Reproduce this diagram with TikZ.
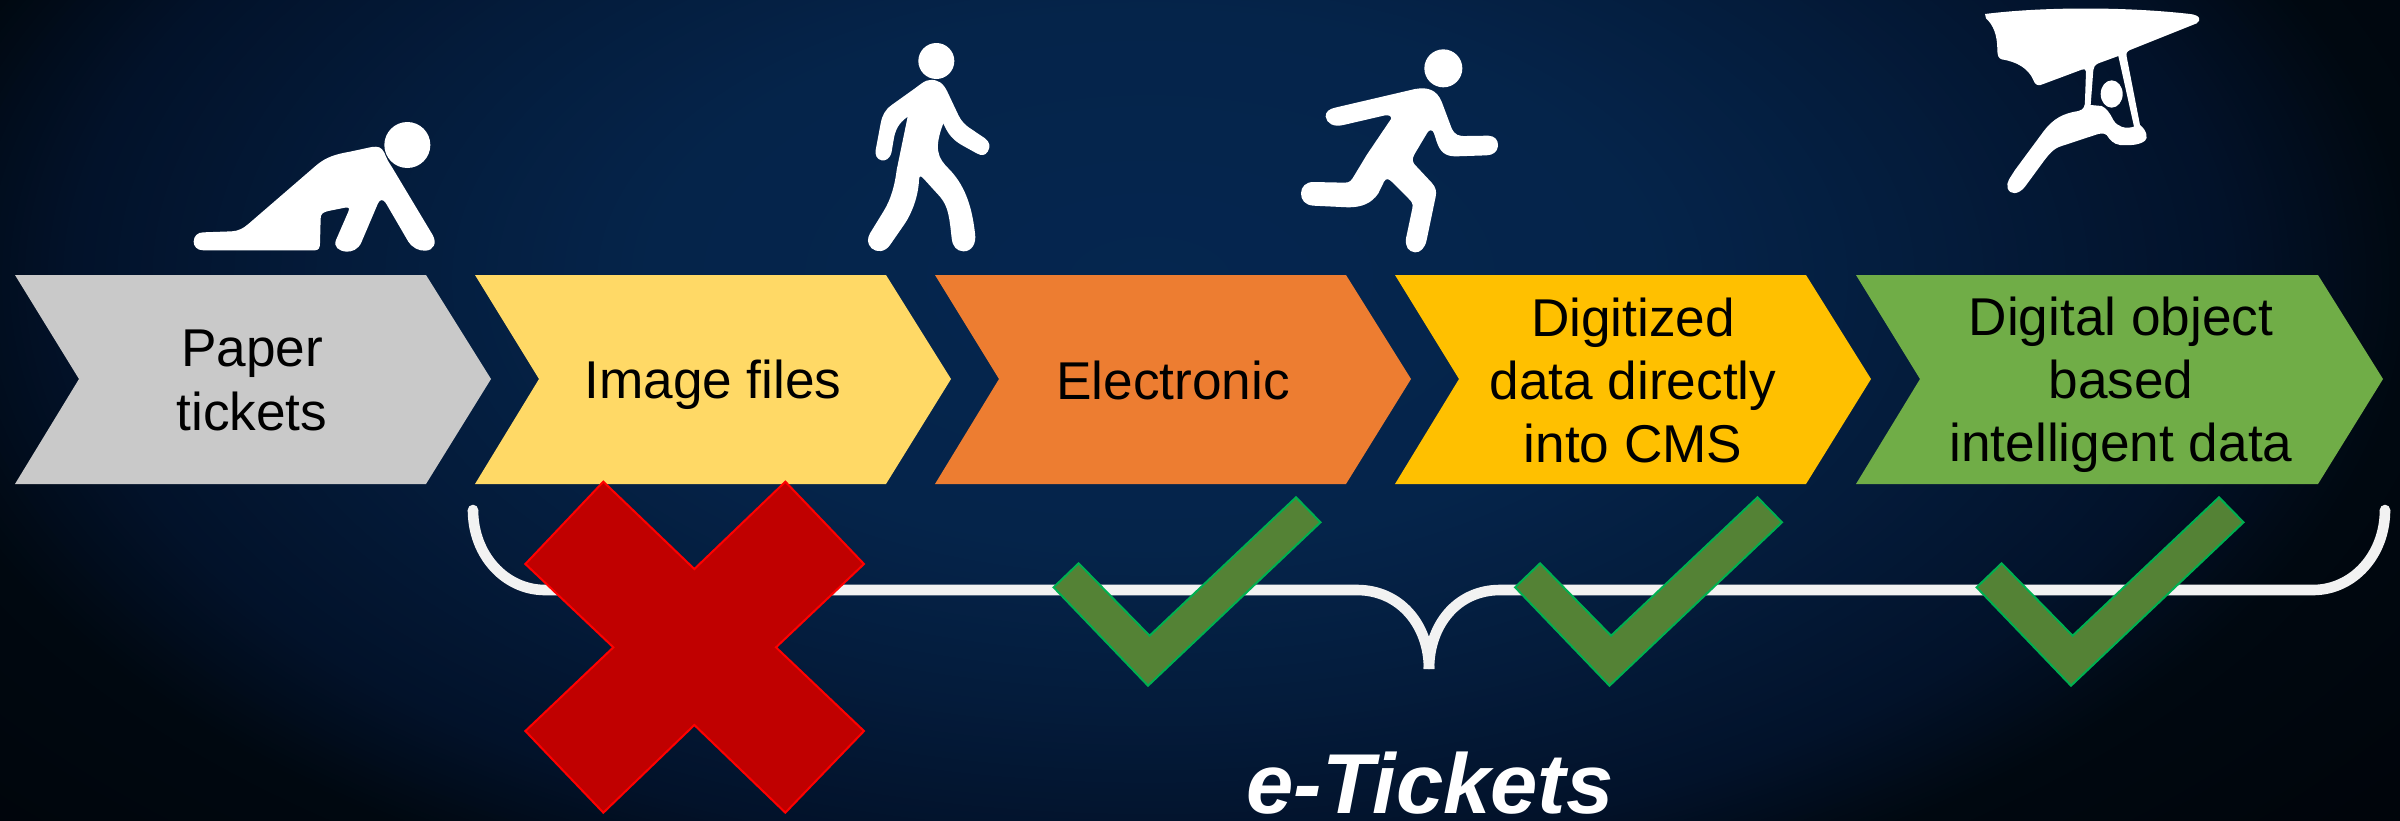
\documentclass[tikz,border=0pt]{standalone}
\usepackage{fontspec}
\setmainfont{Liberation Sans}
\definecolor{bgA}{HTML}{05264F}
\definecolor{bgB}{HTML}{05244A}
\definecolor{bgC}{HTML}{041C3C}
\definecolor{bgD}{HTML}{02122A}
\definecolor{bgE}{HTML}{000810}
\definecolor{bgF}{HTML}{00040A}
\definecolor{crossfill}{HTML}{C00000}
\definecolor{crossline}{HTML}{FF0000}
\definecolor{checkfill}{HTML}{548235}
\definecolor{checkline}{HTML}{00B050}
\definecolor{bracecol}{HTML}{F2F2F2}
\definecolor{chevgray}{HTML}{C9C9C9}
\definecolor{chevyellow}{HTML}{FFD966}
\definecolor{chevorange}{HTML}{ED7D31}
\definecolor{chevamber}{HTML}{FFC000}
\definecolor{chevgreen}{HTML}{70AD47}
\tikzset{
  chevlabel/.style={font=\fontsize{26.6}{31.6}\selectfont,text=black,align=center,anchor=center,inner sep=0pt},
  figure/.style={fill=white,draw=none},
  bracearc/.style={draw=bracecol,line width=5.3pt},
  crossmark/.style={fill=crossfill,draw=crossline,line width=1pt,line join=miter},
  checkmark/.style={fill=checkfill,draw=checkline,line width=1pt,line join=miter},
  zoomed/.style={x=0.166667pt,y=-0.166667pt}
}
\newcommand{\glowband}[4]{%
  \foreach \s in {0,...,24}{%
    \pgfmathsetmacro\bandt{#1+(#2-#1)*\s/25}%
    \pgfmathsetmacro\bandp{100-\s*4}%
    \fill[#3!\bandp!#4] (1150,280) ellipse [x radius={1270*\bandt}, y radius={680*\bandt}];
  }}
\newcommand{\chevronshape}[3]{%
  \fill[#2] (#1,275) -- ++(#3,0) -- ++(65,104) -- ++(-65,105) -- ++(-#3,0) -- ++(64,-105) -- cycle;}
\newcommand{\checkshape}[1]{%
  \begin{scope}[shift={(#1,0)}]
  \path[checkmark] (1053.6,587.3) -- (1078.6,563.3) -- (1149.6,635.7) -- (1296,497.3) -- (1320.5,522.3) -- (1148,685.7) -- cycle;
  \end{scope}}
\begin{document}
\begin{tikzpicture}[x=0.5pt,y=-0.5pt]
\useasboundingbox (0,0) rectangle (2400,820);
\fill[bgF] (0,0) rectangle (2400,820);
\begin{scope}
  \clip (0,0) rectangle (2400,820);
  \glowband{1.3}{1.0}{bgF}{bgE}
  \glowband{1.0}{0.85}{bgE}{bgD}
  \glowband{0.85}{0.62}{bgD}{bgC}
  \glowband{0.62}{0.4}{bgC}{bgB}
  \glowband{0.4}{0.0}{bgB}{bgA}
\end{scope}
% chevrons
\chevronshape{15}{chevgray}{411}
\chevronshape{475}{chevyellow}{411}
\chevronshape{935}{chevorange}{411}
\chevronshape{1395}{chevamber}{411}
\chevronshape{1856}{chevgreen}{462}
\node[chevlabel] (paper) at (252,380.5) {Paper\\tickets};
\node[chevlabel] (image) at (713,385) {Image files};
\node[chevlabel] (elec) at (1173,380.5) {Electronic};
\node[chevlabel] (digit) at (1633,380.5) {Digitized\\data directly\\into CMS};
\node[chevlabel] (object) at (2121,385) {Digital object\\based\\intelligent data};
% brace
\path[bracearc] (473,510) .. controls (473,555) and (505,590) .. (545,590) -- (1357,590) .. controls (1400,590) and (1429,625) .. (1429,669);
\path[bracearc] (2385,510) .. controls (2385,555) and (2353,590) .. (2313,590) -- (1500,590) .. controls (1457,590) and (1429,625) .. (1429,669);
\fill[bracecol] (473,510) circle [radius=5.3];
\fill[bracecol] (2385,510) circle [radius=5.3];
% cross
\begin{scope}[shift={(440,470)},zoomed]
\path[crossmark] (490,35) -- (763,297) -- (1036,35) -- (1272,282) -- (1008,532) -- (1272,783) -- (1036,1028) -- (763,765) -- (490,1028) -- (256,783) -- (520,532) -- (256,282) -- cycle;
\end{scope}
% checks
\checkshape{0}
\checkshape{461.5}
\checkshape{923}
% crawler
\begin{scope}[shift={(150,100)},zoomed]
\fill[white] (772,135) circle [radius=69];
\path[figure] (160,397) -- (245,394) .. controls (265,393) and (280,385) .. (295,372) -- (500,195) .. controls (530,170) and (560,162) .. (600,155) -- (665,141) .. controls (685,138) and (695,142) .. (703,158) .. controls (712,180) and (715,185) .. (725,200) -- (848,405) .. controls (862,430) and (850,452) .. (825,452) .. controls (805,452) and (790,445) .. (775,425) -- (708,310) .. controls (700,297) and (690,297) .. (684,310) -- (635,425) .. controls (625,450) and (605,455) .. (590,455) .. controls (565,453) and (550,440) .. (558,420) -- (595,335) .. controls (600,322) and (595,322) .. (585,323) -- (535,333) .. controls (518,337) and (512,342) .. (512,355) -- (510,430) .. controls (510,445) and (505,450) .. (495,451) -- (160,451) .. controls (140,451) and (131,438) .. (131,425) .. controls (131,408) and (143,397) .. (160,397) -- cycle;
\end{scope}
% walker
\begin{scope}[shift={(840,20)},zoomed]
\fill[white] (289,123) circle [radius=54];
\path[figure] (270,180) .. controls (295,178) and (310,190) .. (322,215) -- (355,285) .. controls (365,305) and (375,315) .. (395,328) -- (435,355) .. controls (450,367) and (452,380) .. (443,395) .. controls (435,407) and (425,408) .. (410,400) -- (365,375) .. controls (340,360) and (325,345) .. (310,310) .. controls (298,340) and (290,375) .. (295,395) .. controls (298,415) and (310,430) .. (325,445) .. controls (370,490) and (395,550) .. (405,640) .. controls (410,670) and (395,695) .. (370,694) .. controls (350,693) and (338,680) .. (335,655) .. controls (328,590) and (325,560) .. (300,530) -- (250,475) .. controls (240,465) and (238,468) .. (237,480) .. controls (235,530) and (215,580) .. (195,610) -- (150,675) .. controls (135,697) and (110,698) .. (95,685) .. controls (80,670) and (82,655) .. (90,640) -- (130,575) .. controls (155,535) and (165,490) .. (170,450) -- (203,290) .. controls (175,310) and (165,330) .. (160,365) -- (155,395) .. controls (150,418) and (135,423) .. (125,421) .. controls (110,418) and (105,405) .. (107,390) -- (122,310) .. controls (127,285) and (135,270) .. (155,255) -- (225,205) .. controls (245,190) and (255,181) .. (270,180) -- cycle;
\end{scope}
% runner
\begin{scope}[shift={(1280,40)},zoomed]
\fill[white] (490,85) circle [radius=57];
\path[figure] (165,203) -- (405,147) .. controls (445,140) and (470,150) .. (485,185) -- (515,265) .. controls (525,285) and (535,289) .. (560,288) -- (625,287) .. controls (645,288) and (655,300) .. (654,318) .. controls (652,335) and (640,345) .. (620,346) -- (530,349) .. controls (495,350) and (480,335) .. (470,305) -- (462,280) .. controls (458,268) and (448,268) .. (442,278) -- (405,340) .. controls (395,358) and (395,365) .. (410,380) -- (455,428) .. controls (468,442) and (470,455) .. (467,470) -- (440,600) .. controls (435,625) and (420,638) .. (405,637) .. controls (385,635) and (375,620) .. (378,595) -- (397,505) .. controls (400,490) and (395,485) .. (385,475) -- (335,425) .. controls (325,415) and (318,415) .. (312,425) -- (295,460) .. controls (275,490) and (245,502) .. (205,502) -- (100,497) .. controls (75,495) and (63,480) .. (63,460) .. controls (63,440) and (78,426) .. (100,426) -- (195,428) .. controls (210,428) and (215,420) .. (222,408) -- (260,345) -- (333,237) .. controls (335,228) and (328,225) .. (315,226) -- (190,255) .. controls (160,262) and (140,250) .. (137,230) .. controls (136,215) and (148,207) .. (165,203) -- cycle;
\end{scope}
% glider
\begin{scope}[shift={(1960,0)},zoomed]
\path[figure,even odd rule] (75,42) .. controls (250,20) and (500,20) .. (690,42) .. controls (720,45) and (725,60) .. (710,70) -- (510,150) .. controls (500,155) and (498,160) .. (500,170) -- (540,375) .. controls (560,390) and (565,415) .. (555,422) .. controls (540,435) and (510,437) .. (480,435) .. controls (460,432) and (450,420) .. (440,405) .. controls (430,398) and (420,400) .. (405,405) -- (305,438) .. controls (280,445) and (265,465) .. (250,485) -- (195,560) .. controls (175,585) and (150,585) .. (143,565) .. controls (138,545) and (150,535) .. (165,510) -- (250,395) .. controls (280,355) and (310,340) .. (355,333) .. controls (372,328) and (375,320) .. (375,300) -- (378,215) .. controls (378,207) and (372,206) .. (365,209) -- (250,252) .. controls (235,260) and (225,255) .. (220,240) .. controls (205,205) and (170,185) .. (125,178) .. controls (115,175) and (112,165) .. (112,150) .. controls (112,105) and (100,75) .. (78,55) -- cycle
(415,190) -- (475,168) -- (522,380) .. controls (495,388) and (472,380) .. (460,360) .. controls (450,340) and (440,325) .. (425,318) -- (392,315) -- (400,210) .. controls (401,200) and (405,195) .. (415,190) -- cycle;
\fill[white] (455,282) ellipse [x radius=33, y radius=41];
\end{scope}
% caption
\node[font=\fontsize{42.5}{50}\selectfont\bfseries\itshape,text=white,anchor=base,inner sep=0pt] (etickets) at (1430,813) {e-Tickets};
\end{tikzpicture}
\end{document}
